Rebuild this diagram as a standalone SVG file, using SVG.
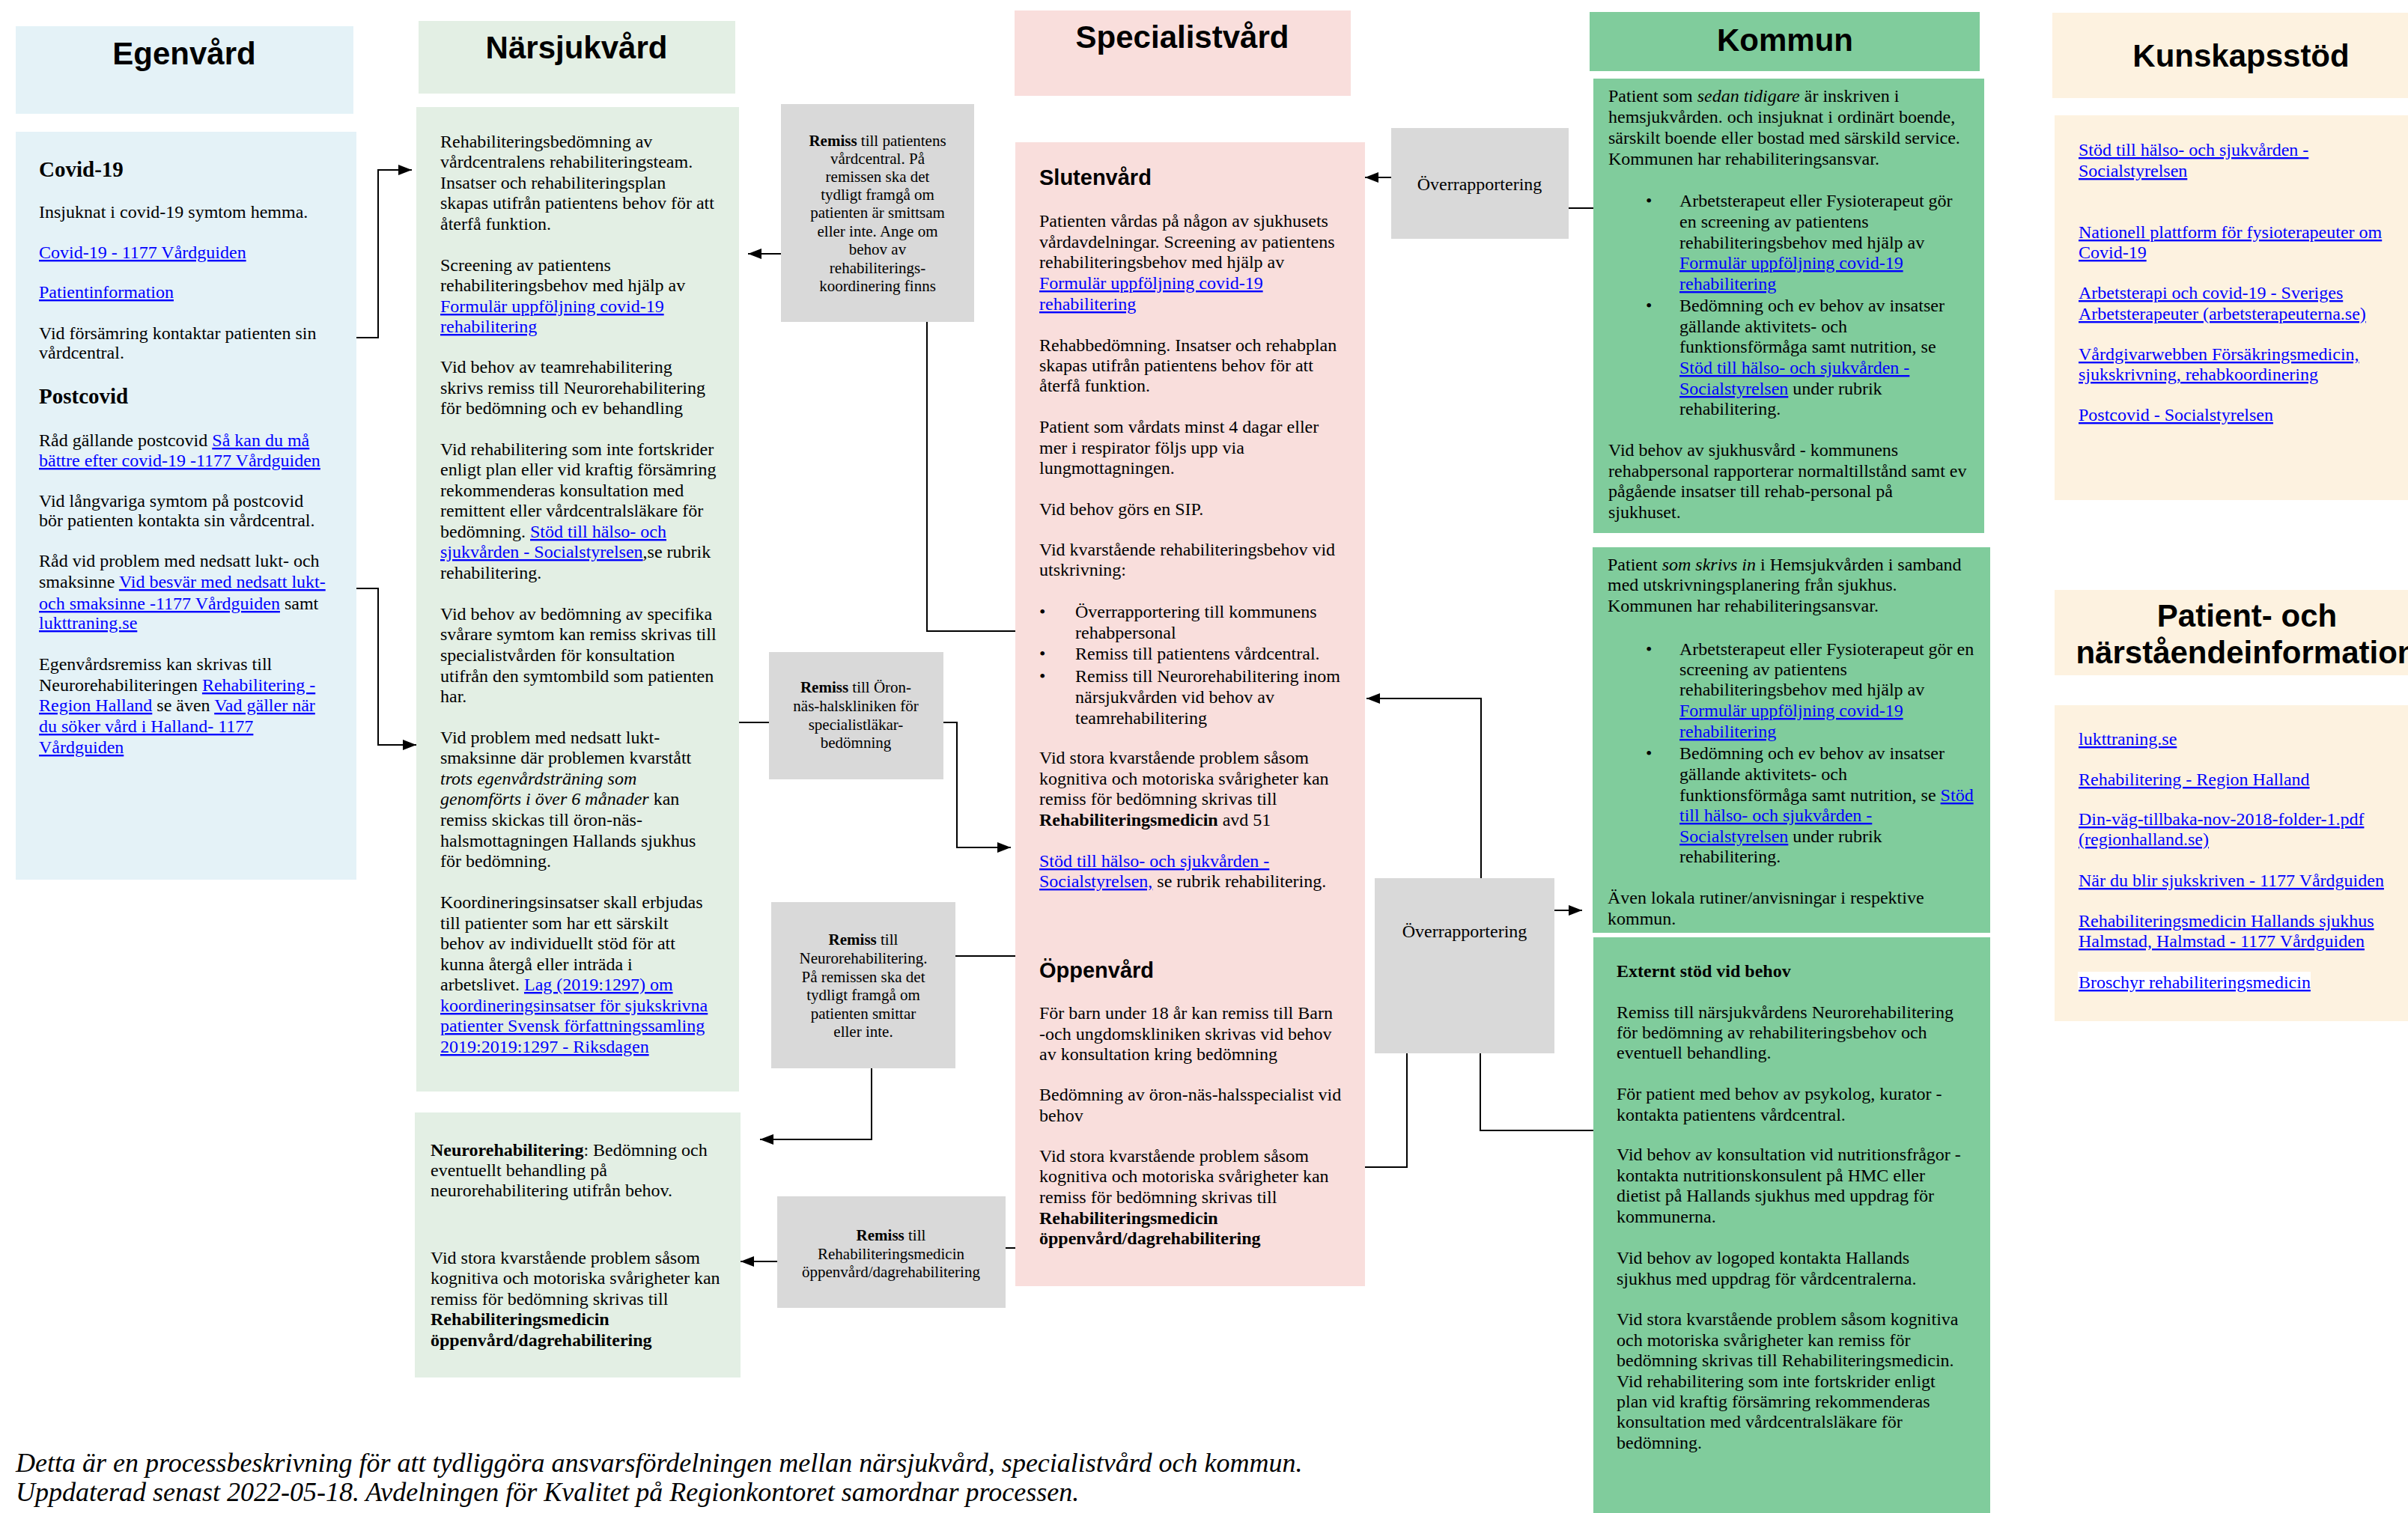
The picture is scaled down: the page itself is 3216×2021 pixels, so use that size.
<svg xmlns="http://www.w3.org/2000/svg" width="3216" height="2021" viewBox="0 0 3216 2021">
<style>
.t{font-family:"Liberation Serif","Times New Roman",serif;font-size:24px;fill:#000}
.s{font-size:21px;text-anchor:middle}
.h{font-family:"Liberation Sans",Arial,sans-serif;font-weight:bold;font-size:42px;text-anchor:middle;fill:#000}
.sh{font-family:"Liberation Sans",Arial,sans-serif;font-weight:bold;font-size:29px;fill:#000}
.hb{font-weight:bold;font-size:29px}
.a{fill:#0000ff;text-decoration:underline}
.b{font-weight:bold}
.i{font-style:italic}
.c{stroke:#000;stroke-width:2;fill:none}
.ar{marker-end:url(#arr)}
.eg{fill:#e4f2f7}.na{fill:#e3efe4}.sp{fill:#f9dedc}.ko{fill:#80cc9c}.gr{fill:#d9d9d9}.ku{fill:#fdf2e0}
.ft{font-family:"Liberation Serif","Times New Roman",serif;font-style:italic;font-size:36px;fill:#000}
</style>
<defs>
<marker id="arr" markerWidth="18" markerHeight="14" refX="18" refY="7" orient="auto" markerUnits="userSpaceOnUse"><path d="M0,0 L18,7 L0,14 z" fill="#000"/></marker>
</defs>
<rect width="3216" height="2021" fill="#fff"/>

<g id="connectors">
<path class="c ar" d="M476,451 H505 V227 H550"/>
<path class="c ar" d="M476,786 H505 V995 H556"/>
<path class="c ar" d="M1043,339 H999"/>
<path class="c" d="M1238,430 V843 H1356"/>
<path class="c" d="M987,965 H1027"/>
<path class="c ar" d="M1260,965 H1278 V1132 H1350"/>
<path class="c" d="M1276,1277 H1356"/>
<path class="c ar" d="M1164,1427 V1522 H1015"/>
<path class="c ar" d="M1038,1685 H989"/>
<path class="c" d="M1343,1667 H1356"/>
<path class="c ar" d="M1858,237 H1823"/>
<path class="c" d="M2095,278 H2128"/>
<path class="c ar" d="M1978,1173 V933 H1825"/>
<path class="c" d="M1823,1559 H1879 V1407"/>
<path class="c" d="M1977,1407 V1510 H2128"/>
<path class="c ar" d="M2076,1216 H2113"/>
</g>

<g id="egenvard-header"><rect class="eg" x="21" y="35" width="451" height="117"/><text class="h" x="246" y="86">Egenvård</text></g>
<g id="egenvard">
<rect class="eg" x="21" y="176" width="455" height="999"/>
<text class="t hb" x="52" y="236">Covid-19</text>
<text class="t" x="52" y="291">Insjuknat i covid-19 symtom hemma.</text>
<text class="t a" x="52" y="345">Covid-19 - 1177 Vårdguiden</text>
<text class="t a" x="52" y="398">Patientinformation</text>
<text class="t" x="52" y="453">Vid försämring kontaktar patienten sin</text>
<text class="t" x="52" y="479">vårdcentral.</text>
<text class="t hb" x="52" y="539">Postcovid</text>
<text class="t" x="52" y="596">Råd gällande postcovid <tspan class="a">Så kan du må</tspan></text>
<text class="t a" x="52" y="623">bättre efter covid-19 -1177 Vårdguiden</text>
<text class="t" x="52" y="677">Vid långvariga symtom på postcovid</text>
<text class="t" x="52" y="703">bör patienten kontakta sin vårdcentral.</text>
<text class="t" x="52" y="757">Råd vid problem med nedsatt lukt- och</text>
<text class="t" x="52" y="785">smaksinne <tspan class="a">Vid besvär med nedsatt lukt-</tspan></text>
<text class="t" x="52" y="814"><tspan class="a">och smaksinne -1177 Vårdguiden</tspan> samt</text>
<text class="t a" x="52" y="840">lukttraning.se</text>
<text class="t" x="52" y="895">Egenvårdsremiss kan skrivas till</text>
<text class="t" x="52" y="923">Neurorehabiliteringen <tspan class="a">Rehabilitering -</tspan></text>
<text class="t" x="52" y="950"><tspan class="a">Region Halland</tspan> se även <tspan class="a">Vad gäller när</tspan></text>
<text class="t a" x="52" y="978">du söker vård i Halland- 1177</text>
<text class="t a" x="52" y="1006">Vårdguiden</text>
</g>

<g id="narsjukvard-header"><rect class="na" x="559" y="28" width="423" height="97"/><text class="h" x="770" y="78">Närsjukvård</text></g>
<g id="narsjukvard">
<rect class="na" x="556" y="143" width="431" height="1315"/>
<text class="t" x="588" y="197">Rehabiliteringsbedömning av</text>
<text class="t" x="588" y="224">vårdcentralens rehabiliteringsteam.</text>
<text class="t" x="588" y="252">Insatser och rehabiliteringsplan</text>
<text class="t" x="588" y="279">skapas utifrån patientens behov för att</text>
<text class="t" x="588" y="307">återfå funktion.</text>
<text class="t" x="588" y="362">Screening av patientens</text>
<text class="t" x="588" y="389">rehabiliteringsbehov med hjälp av</text>
<text class="t a" x="588" y="417">Formulär uppföljning covid-19</text>
<text class="t a" x="588" y="444">rehabilitering</text>
<text class="t" x="588" y="498">Vid behov av teamrehabilitering</text>
<text class="t" x="588" y="526">skrivs remiss till Neurorehabilitering</text>
<text class="t" x="588" y="553">för bedömning och ev behandling</text>
<text class="t" x="588" y="608">Vid rehabilitering som inte fortskrider</text>
<text class="t" x="588" y="635">enligt plan eller vid kraftig försämring</text>
<text class="t" x="588" y="663">rekommenderas konsultation med</text>
<text class="t" x="588" y="690">remittent eller vårdcentralsläkare för</text>
<text class="t" x="588" y="718">bedömning. <tspan class="a">Stöd till hälso- och</tspan></text>
<text class="t" x="588" y="745"><tspan class="a">sjukvården - Socialstyrelsen</tspan>,se rubrik</text>
<text class="t" x="588" y="773">rehabilitering.</text>
<text class="t" x="588" y="828">Vid behov av bedömning av specifika</text>
<text class="t" x="588" y="855">svårare symtom kan remiss skrivas till</text>
<text class="t" x="588" y="883">specialistvården för konsultation</text>
<text class="t" x="588" y="911">utifrån den symtombild som patienten</text>
<text class="t" x="588" y="938">har.</text>
<text class="t" x="588" y="993">Vid problem med nedsatt lukt-</text>
<text class="t" x="588" y="1020">smaksinne där problemen kvarstått</text>
<text class="t i" x="588" y="1048">trots egenvårdsträning som</text>
<text class="t" x="588" y="1075"><tspan class="i">genomförts i över 6 månader</tspan> kan</text>
<text class="t" x="588" y="1103">remiss skickas till öron-näs-</text>
<text class="t" x="588" y="1131">halsmottagningen Hallands sjukhus</text>
<text class="t" x="588" y="1158">för bedömning.</text>
<text class="t" x="588" y="1213">Koordineringsinsatser skall erbjudas</text>
<text class="t" x="588" y="1241">till patienter som har ett särskilt</text>
<text class="t" x="588" y="1268">behov av individuellt stöd för att</text>
<text class="t" x="588" y="1296">kunna återgå eller inträda i</text>
<text class="t" x="588" y="1323">arbetslivet. <tspan class="a">Lag (2019:1297) om</tspan></text>
<text class="t a" x="588" y="1351">koordineringsinsatser för sjukskrivna</text>
<text class="t a" x="588" y="1378">patienter Svensk författningssamling</text>
<text class="t a" x="588" y="1406">2019:2019:1297 - Riksdagen</text>
</g>

<g id="neurorehab">
<rect class="na" x="554" y="1486" width="435" height="354"/>
<text class="t" x="575" y="1544"><tspan class="b">Neurorehabilitering</tspan>: Bedömning och</text>
<text class="t" x="575" y="1571">eventuellt behandling på</text>
<text class="t" x="575" y="1598">neurorehabilitering utifrån behov.</text>
<text class="t" x="575" y="1688">Vid stora kvarstående problem såsom</text>
<text class="t" x="575" y="1715">kognitiva och motoriska svårigheter kan</text>
<text class="t" x="575" y="1743">remiss för bedömning skrivas till</text>
<text class="t b" x="575" y="1770">Rehabiliteringsmedicin</text>
<text class="t b" x="575" y="1798">öppenvård/dagrehabilitering</text>
</g>

<g id="remiss-vardcentral">
<rect class="gr" x="1043" y="139" width="258" height="291"/>
<text class="t s" x="1172" y="195"><tspan class="b">Remiss</tspan> till patientens</text>
<text class="t s" x="1172" y="219">vårdcentral. På</text>
<text class="t s" x="1172" y="243">remissen ska det</text>
<text class="t s" x="1172" y="267">tydligt framgå om</text>
<text class="t s" x="1172" y="291">patienten är smittsam</text>
<text class="t s" x="1172" y="316">eller inte. Ange om</text>
<text class="t s" x="1172" y="340">behov av</text>
<text class="t s" x="1172" y="365">rehabiliterings-</text>
<text class="t s" x="1172" y="389">koordinering finns</text>
</g>

<g id="remiss-oron">
<rect class="gr" x="1027" y="871" width="233" height="170"/>
<text class="t s" x="1143" y="925"><tspan class="b">Remiss</tspan> till Öron-</text>
<text class="t s" x="1143" y="950">näs-halskliniken för</text>
<text class="t s" x="1143" y="975">specialistläkar-</text>
<text class="t s" x="1143" y="999">bedömning</text>
</g>

<g id="remiss-neuro">
<rect class="gr" x="1030" y="1205" width="246" height="222"/>
<text class="t s" x="1153" y="1262"><tspan class="b">Remiss</tspan> till</text>
<text class="t s" x="1153" y="1287">Neurorehabilitering.</text>
<text class="t s" x="1153" y="1312">På remissen ska det</text>
<text class="t s" x="1153" y="1336">tydligt framgå om</text>
<text class="t s" x="1153" y="1361">patienten smittar</text>
<text class="t s" x="1153" y="1385">eller inte.</text>
</g>

<g id="remiss-rehabmed">
<rect class="gr" x="1038" y="1598" width="305" height="149"/>
<text class="t s" x="1190" y="1657"><tspan class="b">Remiss</tspan> till</text>
<text class="t s" x="1190" y="1682">Rehabiliteringsmedicin</text>
<text class="t s" x="1190" y="1706">öppenvård/dagrehabilitering</text>
</g>

<g id="specialistvard-header"><rect class="sp" x="1355" y="14" width="449" height="114"/><text class="h" x="1579" y="64">Specialistvård</text></g>
<g id="specialistvard">
<rect class="sp" x="1356" y="190" width="467" height="1528"/>
<text class="sh" x="1388" y="247">Slutenvård</text>
<text class="t" x="1388" y="303">Patienten vårdas på någon av sjukhusets</text>
<text class="t" x="1388" y="331">vårdavdelningar. Screening av patientens</text>
<text class="t" x="1388" y="358">rehabiliteringsbehov med hjälp av</text>
<text class="t a" x="1388" y="386">Formulär uppföljning covid-19</text>
<text class="t a" x="1388" y="414">rehabilitering</text>
<text class="t" x="1388" y="469">Rehabbedömning. Insatser och rehabplan</text>
<text class="t" x="1388" y="496">skapas utifrån patientens behov för att</text>
<text class="t" x="1388" y="523">återfå funktion.</text>
<text class="t" x="1388" y="578">Patient som vårdats minst 4 dagar eller</text>
<text class="t" x="1388" y="606">mer i respirator följs upp via</text>
<text class="t" x="1388" y="633">lungmottagningen.</text>
<text class="t" x="1388" y="688">Vid behov görs en SIP.</text>
<text class="t" x="1388" y="742">Vid kvarstående rehabiliteringsbehov vid</text>
<text class="t" x="1388" y="769">utskrivning:</text>
<text class="t" x="1388" y="825">•</text><text class="t" x="1436" y="825">Överrapportering till kommunens</text>
<text class="t" x="1436" y="853">rehabpersonal</text>
<text class="t" x="1388" y="881">•</text><text class="t" x="1436" y="881">Remiss till patientens vårdcentral.</text>
<text class="t" x="1388" y="911">•</text><text class="t" x="1436" y="911">Remiss till Neurorehabilitering inom</text>
<text class="t" x="1436" y="939">närsjukvården vid behov av</text>
<text class="t" x="1436" y="967">teamrehabilitering</text>
<text class="t" x="1388" y="1020">Vid stora kvarstående problem såsom</text>
<text class="t" x="1388" y="1048">kognitiva och motoriska svårigheter kan</text>
<text class="t" x="1388" y="1075">remiss för bedömning skrivas till</text>
<text class="t" x="1388" y="1103"><tspan class="b">Rehabiliteringsmedicin</tspan> avd 51</text>
<text class="t a" x="1388" y="1158">Stöd till hälso- och sjukvården -</text>
<text class="t" x="1388" y="1185"><tspan class="a">Socialstyrelsen,</tspan> se rubrik rehabilitering.</text>
<text class="sh" x="1388" y="1306">Öppenvård</text>
<text class="t" x="1388" y="1361">För barn under 18 år kan remiss till Barn</text>
<text class="t" x="1388" y="1389">-och ungdomskliniken skrivas vid behov</text>
<text class="t" x="1388" y="1416">av konsultation kring bedömning</text>
<text class="t" x="1388" y="1470">Bedömning av öron-näs-halsspecialist vid</text>
<text class="t" x="1388" y="1498">behov</text>
<text class="t" x="1388" y="1552">Vid stora kvarstående problem såsom</text>
<text class="t" x="1388" y="1579">kognitiva och motoriska svårigheter kan</text>
<text class="t" x="1388" y="1607">remiss för bedömning skrivas till</text>
<text class="t b" x="1388" y="1635">Rehabiliteringsmedicin</text>
<text class="t b" x="1388" y="1662">öppenvård/dagrehabilitering</text>
</g>

<g id="overrapportering-1">
<rect class="gr" x="1858" y="171" width="237" height="148"/>
<text class="t" x="1976" y="254" text-anchor="middle">Överrapportering</text>
</g>
<g id="overrapportering-2">
<rect class="gr" x="1836" y="1173" width="240" height="234"/>
<text class="t" x="1956" y="1252" text-anchor="middle">Överrapportering</text>
</g>

<g id="kommun-header"><rect class="ko" x="2123" y="16" width="521" height="79"/><text class="h" x="2384" y="68">Kommun</text></g>
<g id="kommun-1">
<rect class="ko" x="2128" y="105" width="522" height="607"/>
<text class="t" x="2148" y="136">Patient som <tspan class="i">sedan tidigare</tspan> är inskriven i</text>
<text class="t" x="2148" y="164">hemsjukvården. och insjuknat i ordinärt boende,</text>
<text class="t" x="2148" y="192">särskilt boende eller bostad med särskild service.</text>
<text class="t" x="2148" y="220">Kommunen har rehabiliteringsansvar.</text>
<text class="t" x="2198" y="276">•</text><text class="t" x="2243" y="276">Arbetsterapeut eller Fysioterapeut gör</text>
<text class="t" x="2243" y="304">en screening av patientens</text>
<text class="t" x="2243" y="332">rehabiliteringsbehov med hjälp av</text>
<text class="t a" x="2243" y="359">Formulär uppföljning covid-19</text>
<text class="t a" x="2243" y="387">rehabilitering</text>
<text class="t" x="2198" y="416">•</text><text class="t" x="2243" y="416">Bedömning och ev behov av insatser</text>
<text class="t" x="2243" y="444">gällande aktivitets- och</text>
<text class="t" x="2243" y="471">funktionsförmåga samt nutrition, se</text>
<text class="t a" x="2243" y="499">Stöd till hälso- och sjukvården -</text>
<text class="t" x="2243" y="527"><tspan class="a">Socialstyrelsen</tspan> under rubrik</text>
<text class="t" x="2243" y="554">rehabilitering.</text>
<text class="t" x="2148" y="609">Vid behov av sjukhusvård - kommunens</text>
<text class="t" x="2148" y="637">rehabpersonal rapporterar normaltillstånd samt ev</text>
<text class="t" x="2148" y="664">pågående insatser till rehab-personal på</text>
<text class="t" x="2148" y="692">sjukhuset.</text>
</g>
<g id="kommun-2">
<rect class="ko" x="2127" y="731" width="531" height="515"/>
<text class="t" x="2147" y="762">Patient <tspan class="i">som skrivs in</tspan> i Hemsjukvården i samband</text>
<text class="t" x="2147" y="789">med utskrivningsplanering från sjukhus.</text>
<text class="t" x="2147" y="817">Kommunen har rehabiliteringsansvar.</text>
<text class="t" x="2198" y="875">•</text><text class="t" x="2243" y="875">Arbetsterapeut eller Fysioterapeut gör en</text>
<text class="t" x="2243" y="902">screening av patientens</text>
<text class="t" x="2243" y="929">rehabiliteringsbehov med hjälp av</text>
<text class="t a" x="2243" y="957">Formulär uppföljning covid-19</text>
<text class="t a" x="2243" y="985">rehabilitering</text>
<text class="t" x="2198" y="1014">•</text><text class="t" x="2243" y="1014">Bedömning och ev behov av insatser</text>
<text class="t" x="2243" y="1042">gällande aktivitets- och</text>
<text class="t" x="2243" y="1070">funktionsförmåga samt nutrition, se <tspan class="a">Stöd</tspan></text>
<text class="t a" x="2243" y="1097">till hälso- och sjukvården -</text>
<text class="t" x="2243" y="1125"><tspan class="a">Socialstyrelsen</tspan> under rubrik</text>
<text class="t" x="2243" y="1152">rehabilitering.</text>
<text class="t" x="2147" y="1207">Även lokala rutiner/anvisningar i respektive</text>
<text class="t" x="2147" y="1235">kommun.</text>
</g>
<g id="kommun-3">
<rect class="ko" x="2128" y="1252" width="530" height="769"/>
<text class="t b" x="2159" y="1305">Externt stöd vid behov</text>
<text class="t" x="2159" y="1360">Remiss till närsjukvårdens Neurorehabilitering</text>
<text class="t" x="2159" y="1387">för bedömning av rehabiliteringsbehov och</text>
<text class="t" x="2159" y="1414">eventuell behandling.</text>
<text class="t" x="2159" y="1469">För patient med behov av psykolog, kurator -</text>
<text class="t" x="2159" y="1497">kontakta patientens vårdcentral.</text>
<text class="t" x="2159" y="1550">Vid behov av konsultation vid nutritionsfrågor -</text>
<text class="t" x="2159" y="1578">kontakta nutritionskonsulent på HMC eller</text>
<text class="t" x="2159" y="1605">dietist på Hallands sjukhus med uppdrag för</text>
<text class="t" x="2159" y="1633">kommunerna.</text>
<text class="t" x="2159" y="1688">Vid behov av logoped kontakta Hallands</text>
<text class="t" x="2159" y="1716">sjukhus med uppdrag för vårdcentralerna.</text>
<text class="t" x="2159" y="1770">Vid stora kvarstående problem såsom kognitiva</text>
<text class="t" x="2159" y="1798">och motoriska svårigheter kan remiss för</text>
<text class="t" x="2159" y="1825">bedömning skrivas till Rehabiliteringsmedicin.</text>
<text class="t" x="2159" y="1853">Vid rehabilitering som inte fortskrider enligt</text>
<text class="t" x="2159" y="1880">plan vid kraftig försämring rekommenderas</text>
<text class="t" x="2159" y="1907">konsultation med vårdcentralsläkare för</text>
<text class="t" x="2159" y="1935">bedömning.</text>
</g>

<g id="kunskapsstod-header"><rect class="ku" x="2741" y="17" width="504" height="114"/><text class="h" x="2993" y="89">Kunskapsstöd</text></g>
<g id="kunskapsstod">
<rect class="ku" x="2744" y="154" width="500" height="514"/>
<text class="t a" x="2776" y="208">Stöd till hälso- och sjukvården -</text>
<text class="t a" x="2776" y="236">Socialstyrelsen</text>
<text class="t a" x="2776" y="318">Nationell plattform för fysioterapeuter om</text>
<text class="t a" x="2776" y="345">Covid-19</text>
<text class="t a" x="2776" y="399">Arbetsterapi och covid-19 - Sveriges</text>
<text class="t a" x="2776" y="427">Arbetsterapeuter (arbetsterapeuterna.se)</text>
<text class="t a" x="2776" y="481">Vårdgivarwebben Försäkringsmedicin,</text>
<text class="t a" x="2776" y="508">sjukskrivning, rehabkoordinering</text>
<text class="t a" x="2776" y="562">Postcovid - Socialstyrelsen</text>
</g>

<g id="patientinfo-header"><rect class="ku" x="2744" y="788" width="510" height="114"/>
<text class="h" x="3001" y="837">Patient- och</text>
<text class="h" x="3000" y="886">närståendeinformation</text></g>
<g id="patientinfo">
<rect class="ku" x="2744" y="942" width="510" height="422"/>
<text class="t a" x="2776" y="995">lukttraning.se</text>
<text class="t a" x="2776" y="1049">Rehabilitering - Region Halland</text>
<text class="t a" x="2776" y="1102">Din-väg-tillbaka-nov-2018-folder-1.pdf</text>
<text class="t a" x="2776" y="1129">(regionhalland.se)</text>
<text class="t a" x="2776" y="1184">När du blir sjukskriven - 1177 Vårdguiden</text>
<text class="t a" x="2776" y="1238">Rehabiliteringsmedicin Hallands sjukhus</text>
<text class="t a" x="2776" y="1265">Halmstad, Halmstad - 1177 Vårdguiden</text>
<rect x="2775" y="1298" width="311" height="27" fill="#fff"/>
<text class="t a" x="2776" y="1320">Broschyr rehabiliteringsmedicin</text>
</g>

<g id="footer">
<text class="ft" x="21" y="1966">Detta är en processbeskrivning för att tydliggöra ansvarsfördelningen mellan närsjukvård, specialistvård och kommun.</text>
<text class="ft" x="21" y="2005">Uppdaterad senast 2022-05-18. Avdelningen för Kvalitet på Regionkontoret samordnar processen.</text>
</g>
</svg>
